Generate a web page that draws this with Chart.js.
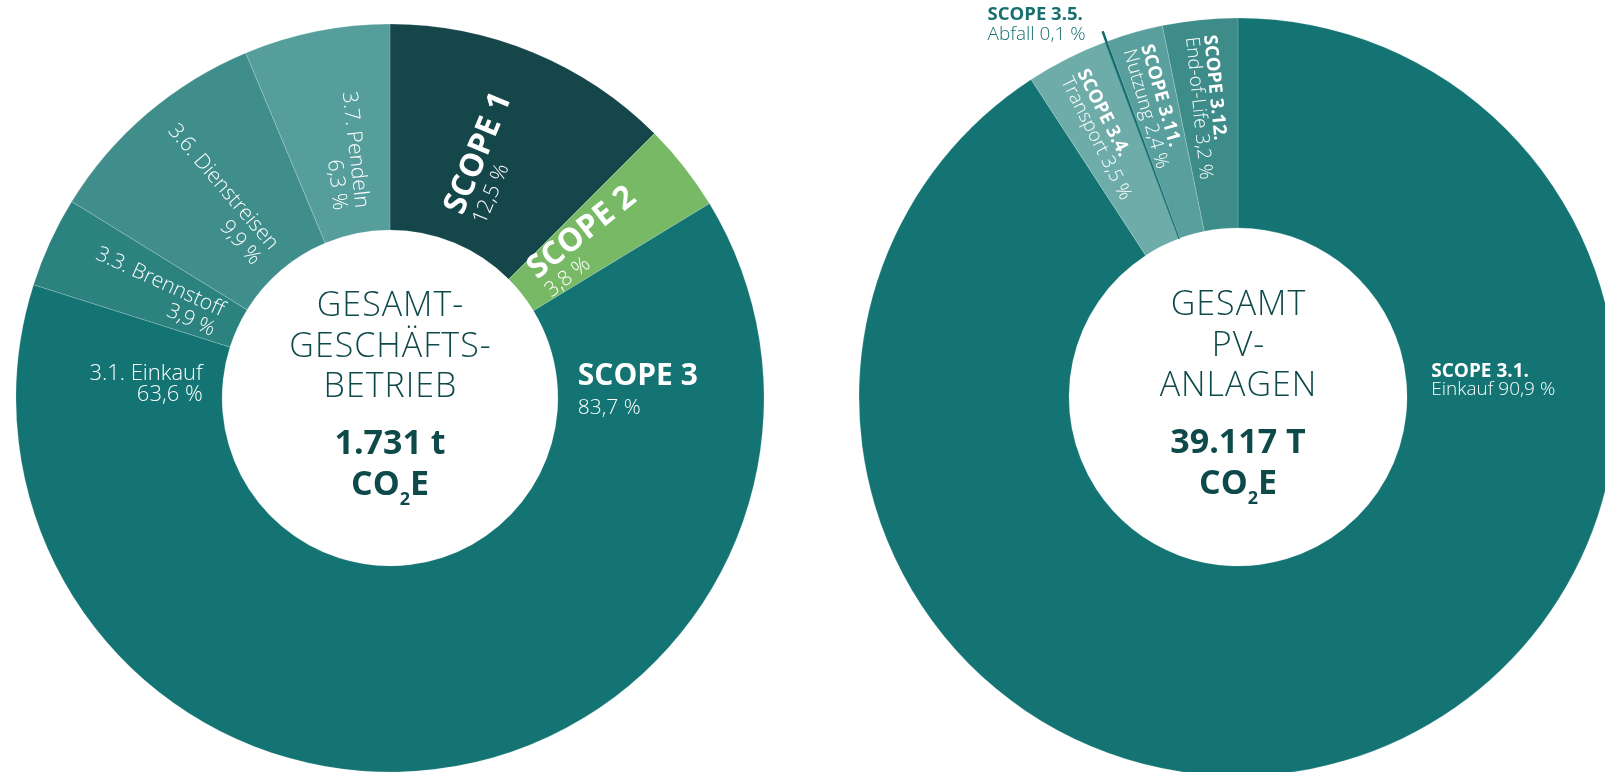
<!DOCTYPE html>
<html lang="de">
<head>
<meta charset="utf-8">
<title>CO2e – Geschäftsbetrieb und PV-Anlagen</title>
<script src="https://cdn.jsdelivr.net/npm/chart.js@4.4.1/dist/chart.umd.min.js"></script>
<style>
  html, body { margin: 0; padding: 0; background: #fff; overflow: hidden; }
  #wrap { position: relative; width: 1605px; height: 772px; overflow: hidden; }
  #betriebChart { position: absolute; left: 0; top: 0; }
  #pvChart { position: absolute; left: 858px; top: 0; }
</style>
</head>
<body>
<div id="wrap">
  <canvas id="betriebChart" width="780" height="796"></canvas>
  <canvas id="pvChart" width="760" height="794"></canvas>
</div>
<script>
// Gesamt-Geschäftsbetrieb (Anteile in %)
const betriebLabels = ['SCOPE 1', 'SCOPE 2', '3.1. Einkauf', '3.3. Brennstoff', '3.6. Dienstreisen', '3.7. Pendeln'];
const betriebValues = [12.5, 3.8, 63.6, 3.9, 9.9, 6.3];
const betriebColors = ['#14464a', '#78b965', '#137473', '#2b827f', '#3f8e8b', '#569e9b'];
const betriebTitle = ['GESAMT-', 'GESCHÄFTS-', 'BETRIEB'];
const betriebTotal = '1.731 t';

// Gesamt PV-Anlagen (Anteile in %)
const pvScopes = ['SCOPE 3.1.', 'SCOPE 3.4.', 'SCOPE 3.5.', 'SCOPE 3.11.', 'SCOPE 3.12.'];
const pvNames = ['Einkauf', 'Transport', 'Abfall', 'Nutzung', 'End-of-Life'];
const pvValues = [90.9, 3.5, 0.1, 2.4, 3.2];
const pvColors = ['#137473', '#6eacaa', '#106c6c', '#599f9d', '#3d8c89'];
const pvTitle = ['GESAMT', 'PV-', 'ANLAGEN'];
const pvTotal = '39.117 T';

const FONT = '"Open Sans", "DejaVu Sans", Arial, sans-serif';
const CAP = 0.714; // Versalhöhe relativ zur Schriftgröße
const INK = '#0f4a4b';

function pct(v) {
    return v.toFixed(1).replace('.', ',') + ' %';
}

// Textblock um (x, y) zeichnen, gedreht; Zeilen mittig um die Achse verteilt
function drawBlock(ctx, x, y, rot, align, lines, gap, color) {
    ctx.save();
    ctx.translate(x, y);
    ctx.rotate(rot);
    ctx.textAlign = align;
    ctx.textBaseline = 'alphabetic';
    ctx.fillStyle = color || '#fff';
    const n = lines.length;
    lines.forEach((ln, i) => {
        const dy = (i - (n - 1) / 2) * gap;
        ctx.font = `${ln.w} ${ln.s}px ${FONT}`;
        ctx.fillText(ln.t, 0, dy + ln.s * CAP / 2);
    });
    ctx.restore();
}

// Position entlang der Segmentmitte
// out: von innen nach außen lesen, in: nach innen lesen (endet innen), down: nach innen lesen (beginnt außen)
function radial(arc, mode, pad, tilt) {
    const mid = (arc.startAngle + arc.endAngle) / 2;
    let r, rot, align;
    if (mode === 'out') { r = arc.innerRadius + pad; rot = mid; align = 'left'; }
    else if (mode === 'in') { r = arc.innerRadius + pad; rot = mid + Math.PI; align = 'right'; }
    else { r = arc.outerRadius - pad; rot = mid + Math.PI; align = 'left'; }
    return { x: arc.x + r * Math.cos(mid), y: arc.y + r * Math.sin(mid), rot: rot + (tilt || 0) * Math.PI / 180, align };
}

// Position über Winkel (Grad, im Uhrzeigersinn ab oben) und Abstand vom Mittelpunkt
function polar(arc, deg, r) {
    const a = deg * Math.PI / 180;
    return { x: arc.x + r * Math.sin(a), y: arc.y - r * Math.cos(a) };
}

function drawCenter(ctx, cx, cy, title, total) {
    ctx.save();
    ctx.fillStyle = INK;
    ctx.textAlign = 'center';
    ctx.textBaseline = 'alphabetic';
    const titleY = [-94, -53, -13];
    ctx.font = `300 34px ${FONT}`;
    ctx.letterSpacing = '1px';
    title.forEach((t, i) => ctx.fillText(t, cx + 0.5, cy + titleY[i] + 34 * CAP / 2));
    ctx.letterSpacing = '0px';
    ctx.font = `700 34px ${FONT}`;
    ctx.fillText(total, cx, cy + 44 + 34 * CAP / 2);
    // CO2E mit tiefgestellter 2
    const base = cy + 85 + 34 * CAP / 2;
    ctx.textAlign = 'left';
    ctx.font = `700 34px ${FONT}`;
    const wCO = ctx.measureText('CO').width;
    const wE = ctx.measureText('E').width;
    ctx.font = `700 18px ${FONT}`;
    const w2 = ctx.measureText('2').width;
    let x = cx - (wCO + w2 + wE) / 2;
    ctx.font = `700 34px ${FONT}`;
    ctx.fillText('CO', x, base);
    x += wCO;
    ctx.font = `700 18px ${FONT}`;
    ctx.fillText('2', x, base + 10);
    x += w2;
    ctx.font = `700 34px ${FONT}`;
    ctx.fillText('E', x, base);
    ctx.restore();
}

const L = (t, s) => ({ t, s, w: 300 });
const B = (t, s) => ({ t, s, w: 700 });

const betriebPlugin = {
    id: 'betriebLabels',
    afterDatasetsDraw(chart) {
        const ctx = chart.ctx;
        const arcs = chart.getDatasetMeta(0).data;
        const v = betriebValues;
        let p;
        p = radial(arcs[0], 'out', 28);
        drawBlock(ctx, p.x, p.y, p.rot, p.align, [B(betriebLabels[0], 32), L(pct(v[0]), 21)], 28);
        p = radial(arcs[1], 'out', 21);
        drawBlock(ctx, p.x, p.y, p.rot, p.align, [B(betriebLabels[1], 32), L(pct(v[1]), 21)], 27);
        p = polar(arcs[2], 274.7, arcs[2].innerRadius + 20);
        drawBlock(ctx, p.x, p.y, 0, 'right', [L(betriebLabels[2], 22), L(pct(v[2]), 22)], 21);
        p = radial(arcs[3], 'in', 20);
        drawBlock(ctx, p.x, p.y, p.rot, p.align, [L(betriebLabels[3], 21), L(pct(v[3]), 21)], 22);
        p = radial(arcs[4], 'in', 22);
        drawBlock(ctx, p.x, p.y, p.rot, p.align, [L(betriebLabels[4], 21), L(pct(v[4]), 21)], 23);
        p = radial(arcs[5], 'in', 25, 5);
        drawBlock(ctx, p.x, p.y, p.rot, p.align, [L(betriebLabels[5], 21), L(pct(v[5]), 21)], 22);
        // Summe Scope 3
        const scope3 = v.slice(2).reduce((a, b) => a + b, 0);
        p = polar(arcs[2], 87.6, arcs[2].innerRadius + 20);
        drawBlock(ctx, p.x, p.y, 0, 'left', [B('SCOPE 3', 30), L(pct(scope3), 21)], 32.5);
        drawCenter(ctx, arcs[0].x, arcs[0].y, betriebTitle, betriebTotal);
    }
};

const pvPlugin = {
    id: 'pvLabels',
    afterDatasetsDraw(chart) {
        const ctx = chart.ctx;
        const arcs = chart.getDatasetMeta(0).data;
        const v = pvValues;
        const line = i => [B(pvScopes[i], 18.5), L(pvNames[i] + ' ' + pct(v[i]), 19)];
        let p;
        p = polar(arcs[0], 84.7, arcs[0].innerRadius + 25);
        drawBlock(ctx, p.x, p.y, 0, 'left', [B(pvScopes[0], 19), L(pvNames[0] + ' ' + pct(v[0]), 19)], 18.5);
        p = radial(arcs[1], 'down', 17);
        drawBlock(ctx, p.x, p.y, p.rot, p.align, line(1), 18);
        p = radial(arcs[3], 'down', 15);
        drawBlock(ctx, p.x, p.y, p.rot, p.align, line(3), 18);
        p = radial(arcs[4], 'down', 16);
        drawBlock(ctx, p.x, p.y, p.rot, p.align, line(4), 18);
        // Abfall: Führungslinie nach außen
        const a = arcs[2];
        const mid = (a.startAngle + a.endAngle) / 2;
        const x1 = a.x + a.outerRadius * Math.cos(mid), y1 = a.y + a.outerRadius * Math.sin(mid);
        const x2 = a.x + (a.outerRadius + 11) * Math.cos(mid), y2 = a.y + (a.outerRadius + 11) * Math.sin(mid);
        ctx.save();
        ctx.strokeStyle = pvColors[2];
        ctx.lineWidth = 2.5;
        ctx.beginPath();
        ctx.moveTo(x1, y1);
        ctx.lineTo(x2, y2);
        ctx.stroke();
        ctx.restore();
        drawBlock(ctx, x2 - 115, y2 - 8, 0, 'left', line(2), 20, '#17706f');
        drawCenter(ctx, arcs[0].x, arcs[0].y, pvTitle, pvTotal);
    }
};

function makeChart(id, labels, values, colors, radius, cutout, plugin) {
    return new Chart(document.getElementById(id), {
        type: 'doughnut',
        data: {
            labels: labels,
            datasets: [{
                data: values,
                backgroundColor: colors,
                borderColor: colors.map(c => c === '#106c6c' ? c : 'rgba(255,255,255,0.22)'),
                borderWidth: 0.8,
                radius: radius,
                cutout: cutout
            }]
        },
        options: {
            responsive: false,
            animation: false,
            rotation: 0,
            layout: { padding: 0 },
            plugins: {
                legend: { display: false },
                tooltip: { enabled: false }
            }
        },
        plugins: [plugin]
    });
}

makeChart('betriebChart', betriebLabels, betriebValues, betriebColors, 374, '44.9%', betriebPlugin);
makeChart('pvChart', pvScopes, pvValues, pvColors, 379, '44.6%', pvPlugin);
</script>
</body>
</html>
